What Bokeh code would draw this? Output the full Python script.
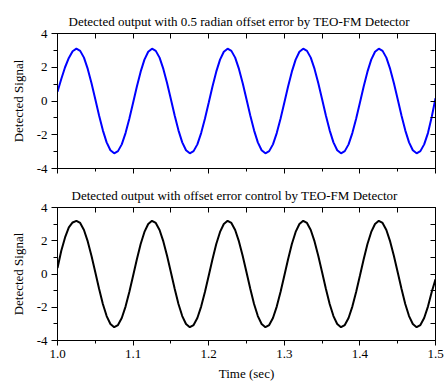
from bokeh.plotting import figure
from bokeh.layouts import column
from bokeh.models import (Range1d, LinearAxis, FixedTicker, PrintfTickFormatter,
                          CustomJSTickFormatter, ColumnDataSource)
from bokeh.embed import file_html
from bokeh.resources import INLINE

# ---------------- data ----------------
time_s = [1.000, 1.005, 1.010, 1.015, 1.020, 1.025, 1.030, 1.035, 1.040, 1.045,
          1.050, 1.055, 1.060, 1.065, 1.070, 1.075, 1.080, 1.085, 1.090, 1.095,
          1.100, 1.105, 1.110, 1.115, 1.120, 1.125, 1.130, 1.135, 1.140, 1.145,
          1.150, 1.155, 1.160, 1.165, 1.170, 1.175, 1.180, 1.185, 1.190, 1.195,
          1.200, 1.205, 1.210, 1.215, 1.220, 1.225, 1.230, 1.235, 1.240, 1.245,
          1.250, 1.255, 1.260, 1.265, 1.270, 1.275, 1.280, 1.285, 1.290, 1.295,
          1.300, 1.305, 1.310, 1.315, 1.320, 1.325, 1.330, 1.335, 1.340, 1.345,
          1.350, 1.355, 1.360, 1.365, 1.370, 1.375, 1.380, 1.385, 1.390, 1.395,
          1.400, 1.405, 1.410, 1.415, 1.420, 1.425, 1.430, 1.435, 1.440, 1.445,
          1.450, 1.455, 1.460, 1.465, 1.470, 1.475, 1.480, 1.485, 1.490, 1.495,
          1.500]

offset_error_signal = [
    0.55, 1.30, 2.00, 2.55, 2.95,
    3.10, 2.97, 2.57, 1.90, 1.05, 0.10, -0.86, -1.74, -2.45, -2.92,
    -3.10, -2.97, -2.57, -1.90, -1.05, -0.10, 0.86, 1.74, 2.45, 2.92,
    3.10, 2.97, 2.57, 1.90, 1.05, 0.10, -0.86, -1.74, -2.45, -2.92,
    -3.10, -2.97, -2.57, -1.90, -1.05, -0.10, 0.86, 1.74, 2.45, 2.92,
    3.10, 2.97, 2.57, 1.90, 1.05, 0.10, -0.86, -1.74, -2.45, -2.92,
    -3.10, -2.97, -2.57, -1.90, -1.05, -0.10, 0.86, 1.74, 2.45, 2.92,
    3.10, 2.97, 2.57, 1.90, 1.05, 0.10, -0.86, -1.74, -2.45, -2.92,
    -3.10, -2.97, -2.57, -1.90, -1.05, -0.10, 0.86, 1.74, 2.45, 2.92,
    3.10, 2.97, 2.57, 1.90, 1.05, 0.10, -0.86, -1.74, -2.45, -2.92,
    -3.10, -2.97, -2.57, -1.90, -0.95,
    0.16]

controlled_signal = [
    0.36, 1.40, 2.20, 2.80, 3.10,
    3.20, 3.07, 2.65, 1.96, 1.08, 0.10, -0.89, -1.80, -2.53, -3.01,
    -3.20, -3.07, -2.65, -1.96, -1.08, -0.10, 0.89, 1.80, 2.53, 3.01,
    3.20, 3.07, 2.65, 1.96, 1.08, 0.10, -0.89, -1.80, -2.53, -3.01,
    -3.20, -3.07, -2.65, -1.96, -1.08, -0.10, 0.89, 1.80, 2.53, 3.01,
    3.20, 3.07, 2.65, 1.96, 1.08, 0.10, -0.89, -1.80, -2.53, -3.01,
    -3.20, -3.07, -2.65, -1.96, -1.08, -0.10, 0.89, 1.80, 2.53, 3.01,
    3.20, 3.07, 2.65, 1.96, 1.08, 0.10, -0.89, -1.80, -2.53, -3.01,
    -3.20, -3.07, -2.65, -1.96, -1.08, -0.10, 0.89, 1.80, 2.53, 3.01,
    3.20, 3.07, 2.65, 1.96, 1.08, 0.10, -0.89, -1.80, -2.53, -3.01,
    -3.20, -3.07, -2.65, -1.96, -1.08,
    -0.32]

x_major_ticks = [1.0, 1.1, 1.2, 1.3, 1.4, 1.5]
x_minor_ticks = [1.05, 1.15, 1.25, 1.35, 1.45]
y_major_ticks = [-4, -2, 0, 2, 4]
y_minor_ticks = [-3, -1, 1, 3]

top_title = "Detected output with 0.5 radian offset error by TEO-FM Detector"
bottom_title = "Detected output with offset error control by TEO-FM Detector"
y_label = "Detected Signal"
x_label = "Time (sec)"

FONT = "Liberation Serif"
BLANK = "return ''"


def style_axis(ax, tick_in, tick_out, minor_in, minor_out):
    ax.axis_line_color = "black"
    ax.axis_line_width = 1
    ax.major_tick_line_color = "black"
    ax.minor_tick_line_color = "black"
    ax.major_tick_in = tick_in
    ax.major_tick_out = tick_out
    ax.minor_tick_in = minor_in
    ax.minor_tick_out = minor_out
    ax.major_label_text_font = FONT
    ax.major_label_text_font_size = "13px"
    ax.major_label_text_color = "black"
    ax.axis_label_text_font = FONT
    ax.axis_label_text_font_size = "13px"
    ax.axis_label_text_font_style = "normal"
    ax.axis_label_text_color = "black"


def make_panel(title, values, color, height, b_left, b_right, b_top, b_bottom,
               show_x_labels, title_offset):
    src = ColumnDataSource(data=dict(t=time_s, v=values))
    p = figure(width=445, height=height, output_backend="svg", toolbar_location=None,
               x_range=Range1d(1.0, 1.5), y_range=Range1d(-4, 4),
               min_border_left=b_left, min_border_right=b_right,
               min_border_top=b_top, min_border_bottom=b_bottom)
    p.background_fill_color = "white"
    p.border_fill_color = "white"
    p.outline_line_color = "black"
    p.xgrid.visible = False
    p.ygrid.visible = False

    p.title.text = title
    p.title.align = "left"
    p.title.text_font = FONT
    p.title.text_font_size = "13px"
    p.title.text_font_style = "normal"
    p.title.text_color = "black"
    p.title.standoff = 10
    p.title.offset = title_offset

    xt = FixedTicker(ticks=x_major_ticks, minor_ticks=x_minor_ticks)
    yt = FixedTicker(ticks=y_major_ticks, minor_ticks=y_minor_ticks)

    xa = p.xaxis[0]
    xa.ticker = xt
    style_axis(xa, 0, 5, 0, 3)
    if show_x_labels:
        xa.formatter = PrintfTickFormatter(format="%.1f")
        xa.axis_label = x_label
        xa.major_label_standoff = 4
        xa.axis_label_standoff = 5
    else:
        xa.formatter = CustomJSTickFormatter(code=BLANK)
        xa.major_label_standoff = 0

    ya = p.yaxis[0]
    ya.ticker = yt
    ya.formatter = PrintfTickFormatter(format="%d")
    ya.axis_label = y_label
    ya.major_label_standoff = 4
    ya.axis_label_standoff = 8
    style_axis(ya, 0, 6, 0, 4)

    top_ax = LinearAxis(ticker=FixedTicker(ticks=x_major_ticks, minor_ticks=x_minor_ticks),
                        formatter=CustomJSTickFormatter(code=BLANK), major_label_standoff=0)
    style_axis(top_ax, 5, 0, 5, 0)
    p.add_layout(top_ax, "above")

    right_ax = LinearAxis(ticker=FixedTicker(ticks=y_major_ticks, minor_ticks=y_minor_ticks),
                          formatter=CustomJSTickFormatter(code=BLANK), major_label_standoff=0)
    style_axis(right_ax, 5, 0, 5, 0)
    p.add_layout(right_ax, "right")

    p.line("t", "v", source=src, line_color=color, line_width=2)
    return p


p_top = make_panel(top_title, offset_error_signal, "#0000ff", 180, 55, 10, 33, 12, False, 11)
p_bot = make_panel(bottom_title, controlled_signal, "black", 203, 57, 9, 25, 43, True, 14)

layout = column(p_top, p_bot, spacing=0)
open("out.html", "w").write(file_html(layout, INLINE))
